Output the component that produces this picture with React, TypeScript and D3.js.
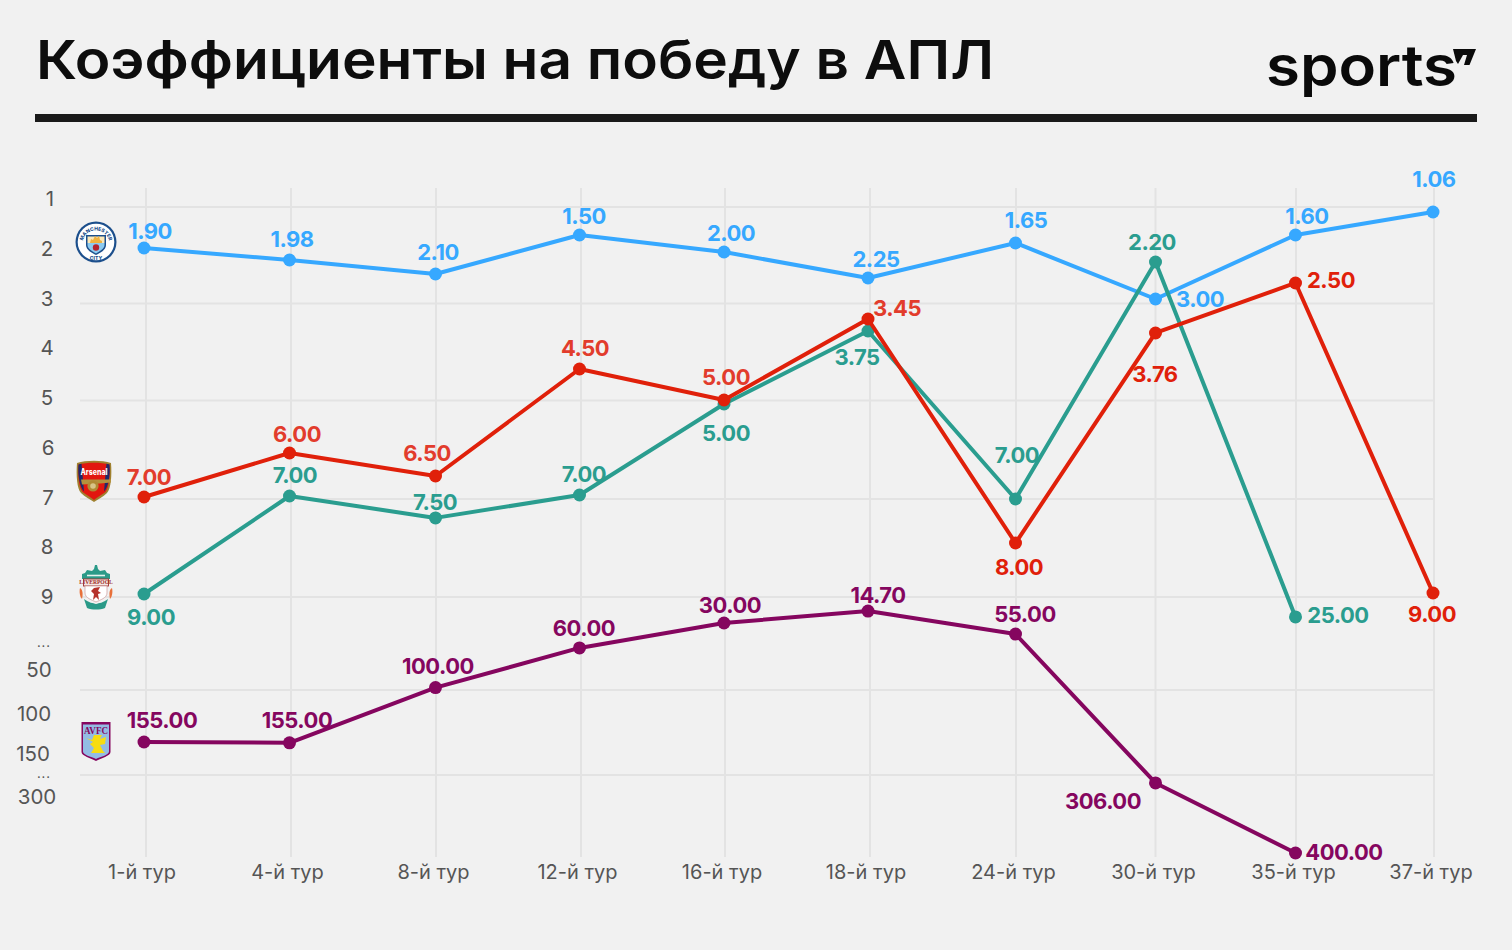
import * as d3 from "d3";

const WIDTH = 1512;
const HEIGHT = 950;
const FONT = "Inter, 'Noto Sans', sans-serif";

const rounds = ["1-й тур", "4-й тур", "8-й тур", "12-й тур", "16-й тур", "18-й тур", "24-й тур", "30-й тур", "35-й тур", "37-й тур"];

// the chart is hand placed: printed odds and plotted heights do not agree, so both are kept
const cityLabels = ["1.90", "1.98", "2.10", "1.50", "2.00", "2.25", "1.65", "3.00", "1.60", "1.06"];
const cityPlotted = [1.985, 2.226, 2.508, 1.724, 2.065, 2.588, 1.884, 3.01, 1.724, 1.261];
const cityOffsets = [[6, -17], [2.5, -21], [2.5, -22], [4.5, -19], [7, -19], [8, -19], [10.5, -23], [44.5, 0], [11.5, -19], [1, -33]];

const arsenalLabels = ["7.00", "6.00", "6.50", "4.50", "5.00", "3.45", "8.00", "3.76", "2.50", "9.00"];
const arsenalPlotted = [6.99, 6.105, 6.568, 4.417, 5.04, 3.412, 7.915, 3.693, 2.688, 8.92];
const arsenalOffsets = [[5, -20], [7.5, -19], [-8.5, -23], [5.5, -21], [2, -23], [29, -11], [3.5, 24], [-0.5, 41], [35.5, -3], [-1, 21]];

const liverpoolLabels = ["9.00", "7.00", "7.50", "7.00", "5.00", "3.75", "7.00", "2.20", "25.00"];
const liverpoolPlotted = [8.94, 6.97, 7.41, 6.95, 5.12, 3.653, 7.03, 2.266, 20.2];
const liverpoolOffsets = [[7, 23], [5.5, -21], [-0.5, -16], [4.5, -21], [2, 29], [-11, 26], [1.5, -44], [-3.5, -20], [42.5, -2]];

const villaLabels = ["155.00", "155.00", "100.00", "60.00", "30.00", "14.70", "55.00", "306.00", "400.00"];
const villaPlotted = [135, 136, 70, 37.6, 23.6, 16.9, 29.8, 251, 400];
const villaOffsets = [[18, -22], [7.5, -23], [2.5, -22], [4.5, -20], [6, -18], [10, -16], [9.5, -20], [-52.5, 18], [48.5, -1]];

const axisValues = [1, 2, 3, 4, 5, 6, 7, 8, 9, 33, 50, 100, 150, 209, 300];
const axisLabels = ["1", "2", "3", "4", "5", "6", "7", "8", "9", "...", "50", "100", "150", "...", "300"];
const axisCentres = [50, 47, 47, 47, 47, 48, 48, 47, 47, 44, 39, 34, 33, 44, 37];
const gridValues = [1.16, 3.1, 5.05, 7.03, 9, 72.7, 223];
const verticalShifts = [2, 1.5, 0.5, 1.5, 1, 2, 0.5, 0, 0.5, 1];

const x = d3
  .scaleOrdinal<string, number>()
  .domain(rounds)
  .range([144, 289.5, 435.5, 579.5, 724, 868, 1015.5, 1155.5, 1295.5, 1433]);

const y = d3
  .scaleLinear()
  .domain([1, 9, 50, 100, 150, 300, 400])
  .range([199, 597, 670, 714, 754, 797, 853]);

const lineFor = d3
  .line<number>()
  .x((_, i) => x(rounds[i]))
  .y((d) => y(d));

const ARSENAL_SOFT = "#e23c2c";
const ARSENAL_HARD = "#e0200a";

const teams = [
  { name: "city", color: "#36a8ff", text: () => "#36a8ff", plotted: cityPlotted, labels: cityLabels, offsets: cityOffsets },
  { name: "liverpool", color: "#2a9d8f", text: () => "#2a9d8f", plotted: liverpoolPlotted, labels: liverpoolLabels, offsets: liverpoolOffsets },
  { name: "arsenal", color: "#e0200a", text: (i: number) => (i < 6 ? ARSENAL_SOFT : ARSENAL_HARD), plotted: arsenalPlotted, labels: arsenalLabels, offsets: arsenalOffsets },
  { name: "villa", color: "#85065f", text: () => "#85065f", plotted: villaPlotted, labels: villaLabels, offsets: villaOffsets },
];

function CityCrest() {
  return (
    <g transform="translate(96,242)">
      <circle r={20.5} fill="#1c4f8c" />
      <circle r={18.3} fill="#fff" />
      <path id="city-top" d="M-13.5,2A13.5,13.5 0 0 1 13.5,2" fill="none" />
      <text fontFamily={FONT} fontSize={5} fontWeight={800} fill="#1c4f8c" textAnchor="middle">
        <textPath href="#city-top" startOffset="50%">MANCHESTER</textPath>
      </text>
      <text y={18} fontFamily={FONT} fontSize={5} fontWeight={800} fill="#1c4f8c" textAnchor="middle">CITY</text>
      <path d="M-10,-7H10V3C10,8 4,11 0,13C-4,11 -10,8 -10,3Z" fill="#1c4f8c" />
      <path d="M-8.5,-5.5H8.5V1H-8.5Z" fill="#fde8b8" />
      <path d="M-8.5,1H8.5V3C8.5,7 3,9.5 0,11.5C-3,9.5 -8.5,7 -8.5,3Z" fill="#8ecbf0" />
      <path d="M-6,1L-5,-3L-3,-2L-1,-6L1,-4L3,-6L4,-2L6,-1L6,1Z" fill="#f0b240" />
      <circle cy={5.5} r={3.2} fill="#b5232f" />
    </g>
  );
}

function ArsenalCrest() {
  return (
    <g transform="translate(94,481)">
      <path d="M-17,-18C-8,-21 8,-21 17,-18C18,-6 17,8 13,12C9,16 4,18 0,21C-4,18 -9,16 -13,12C-17,8 -18,-6 -17,-18Z" fill="#a0812f" />
      <path d="M-15.5,-16.5C-7,-19 7,-19 15.5,-16.5C16.5,-6 15,7 11.5,11C8,14 3,16 0,19C-3,16 -8,14 -11.5,11C-15,7 -16.5,-6 -15.5,-16.5Z" fill="#e2170f" />
      <path d="M-15.5,-16.5L-12.5,-17.3L-10,10.5C-14,7 -16.5,-6 -15.5,-16.5Z" fill="#1d2a6b" />
      <path d="M15.5,-16.5L12.5,-17.3L10,10.5C14,7 16.5,-6 15.5,-16.5Z" fill="#1d2a6b" />
      <text y={-6.5} fontFamily={FONT} fontSize={8.4} fontWeight={800} fill="#fff" textAnchor="middle" textLength={27} lengthAdjust="spacingAndGlyphs">Arsenal</text>
      <path d="M-13,-1.5H17V1.5L6,2.5L-12,3.5Z" fill="#b4913d" />
      <circle cx={-1} cy={5} r={5.6} fill="#b08a35" />
      <circle cx={-1} cy={5} r={2.8} fill="#d8c488" />
    </g>
  );
}

function LiverpoolCrest() {
  return (
    <g transform="translate(96,588)">
      <path d="M-1,-23L1,-23L2,-19L4,-17L9,-18L11,-15L14,-14L14,-9H-14L-14,-14L-11,-15L-9,-18L-4,-17L-2,-19Z" fill="#2a9a88" />
      <path d="M-9,-12.5H9" stroke="#e4f2ee" strokeWidth={1.6} />
      <rect x={-12.5} y={-9} width={25} height={7} fill="#f4e6e2" stroke="#a12f2c" strokeWidth={0.9} />
      <text y={-3.6} fontFamily="'Liberation Serif', serif" fontSize={5.6} fontWeight={700} fill="#a12f2c" textAnchor="middle">LIVERPOOL</text>
      <path d="M-11,-2H11V5C11,10 4,12 0,14C-4,12 -11,10 -11,5Z" fill="#fff" stroke="#c99" strokeWidth={0.7} />
      <path d="M-2,0L4,-1L2,3L5,5L2,6L3,12L0,9L-3,12L-2,6L-5,3Z" fill="#b5322c" />
      <path d="M-16,0C-13,2 -13,6 -14,11C-16,9 -17,4 -16,0Z" fill="#e8703a" />
      <path d="M16,0C13,2 13,6 14,11C16,9 17,4 16,0Z" fill="#e8703a" />
      <path d="M-12,11C-7,15 -3,15 0,16C3,15 7,15 12,11L9,20C4,22 -4,22 -9,20Z" fill="#2a9a88" />
    </g>
  );
}

function VillaCrest() {
  return (
    <g transform="translate(96,741)">
      <path d="M-14.5,-19H14.5V11C14.5,15 5,17 0,20C-5,17 -14.5,15 -14.5,11Z" fill="#85065f" />
      <path d="M-13,-16.5H13V10.5C13,14 5,15.5 0,18C-5,15.5 -13,14 -13,10.5Z" fill="#93bce4" />
      <text y={-7.5} fontFamily="'Liberation Serif', serif" fontSize={9.5} fontWeight={700} fill="#85065f" textAnchor="middle" textLength={24} lengthAdjust="spacingAndGlyphs">AVFC</text>
      <path d="M-10,-3L-4,-1L-2,-6L6,-6L4,-2L10,-4L9,3L4,4L7,10L9,12H-5L-2,7L-6,3L-3,1Z" fill="#f7dc12" />
    </g>
  );
}

export default function App() {
  return (
    <svg
      width={WIDTH}
      height={HEIGHT}
      viewBox={`0 0 ${WIDTH} ${HEIGHT}`}
      style={{ position: "absolute", left: 0, top: 0, display: "block", background: "#f1f1f1" }}
    >
      <text x={36} y={79} fontFamily={FONT} fontSize={54} fontWeight={600} fill="#0d0d0d" textLength={958} lengthAdjust="spacingAndGlyphs">
        Коэффициенты на победу в АПЛ
      </text>
      <rect x={35} y={114} width={1442} height={8} fill="#1a1a1a" />

      <text x={1266} y={86} fontFamily={FONT} fontSize={57} fontWeight={600} fill="#0a0a0a" textLength={191} lengthAdjust="spacingAndGlyphs">
        sports
      </text>
      <path d="M1453,49H1476L1469.5,65H1464L1467,55H1463L1458,64L1456,61Z" fill="#0a0a0a" />

      <g stroke="#e3e3e3" strokeWidth={2}>
        {gridValues.map((v) => (
          <line key={v} x1={80} x2={1433} y1={y(v)} y2={y(v)} />
        ))}
        {rounds.map((r, i) => (
          <line key={r} x1={x(r) + verticalShifts[i]} x2={x(r) + verticalShifts[i]} y1={188} y2={857} />
        ))}
      </g>

      <g fontFamily={FONT} fontSize={20} fill="#555" textAnchor="middle">
        {axisLabels.map((label, i) => (
          <text
            key={i}
            x={axisCentres[i]}
            y={y(axisValues[i]) + 7}
            fontSize={label === "..." ? 13 : 20.5}
            letterSpacing={label === "..." ? 1 : 0}
          >
            {label}
          </text>
        ))}
        {rounds.map((r) => (
          <text key={r} x={x(r) - 2} y={879}>
            {r}
          </text>
        ))}
      </g>

      <CityCrest />
      <ArsenalCrest />
      <LiverpoolCrest />
      <VillaCrest />

      {teams.map((team) => (
        <g key={team.name}>
          <path d={lineFor(team.plotted) ?? ""} fill="none" stroke={team.color} strokeWidth={4} strokeLinejoin="round" />
          {team.plotted.map((v, i) => (
            <circle key={i} cx={x(rounds[i])} cy={y(v)} r={6.5} fill={team.color} />
          ))}
          {team.labels.map((label, i) => (
            <text
              key={i}
              x={x(rounds[i]) + team.offsets[i][0]}
              y={y(team.plotted[i]) + team.offsets[i][1] + 8}
              fontFamily={FONT}
              fontSize={22}
              fontWeight={700}
              letterSpacing={-0.5}
              fill={team.text(i)}
              textAnchor="middle"
            >
              {label}
            </text>
          ))}
        </g>
      ))}
    </svg>
  );
}
